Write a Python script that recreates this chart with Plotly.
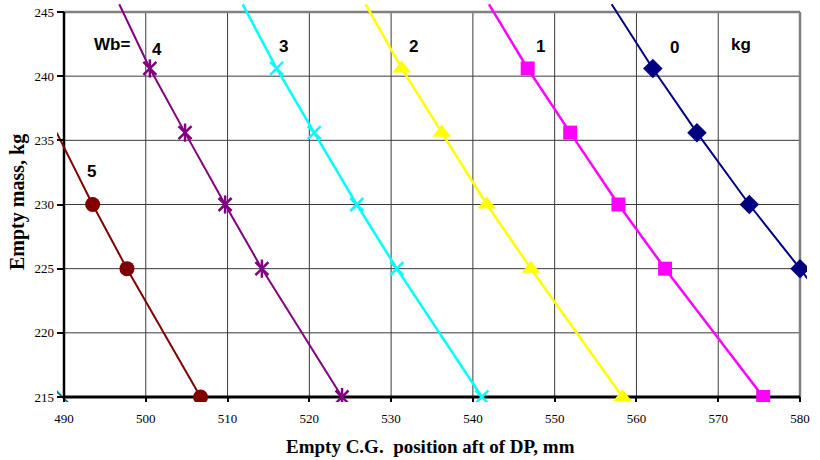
import plotly.graph_objects as go

# ---------------- data ----------------
masses = [245.6, 240.6, 235.6, 230, 225, 215]          # empty mass, kg
cg_wb0 = [556.97, 562.0, 567.4, 573.8, 580.0, 592.0]   # Wb = 0 kg
cg_wb1 = [541.97, 546.7, 551.9, 557.8, 563.5, 575.5]   # Wb = 1 kg
cg_wb2 = [526.89, 531.3, 536.2, 541.7, 547.1, 558.3]   # Wb = 2 kg
cg_wb3 = [511.85, 516.0, 520.6, 525.8, 530.7, 541.1]   # Wb = 3 kg
cg_wb4 = [496.76, 500.5, 504.8, 509.7, 514.2, 524.0]   # Wb = 4 kg
cg_wb5 = [None, None, 489.1, 493.5, 497.7, 506.7]      # Wb = 5 kg
cg_wb6 = [None, None, None, None, None, 489.8]         # Wb = 6 kg (only edge visible)

x_ticks = [490, 500, 510, 520, 530, 540, 550, 560, 570, 580]
y_ticks = [215, 220, 225, 230, 235, 240, 245]

label_texts = ["Wb=", "4", "3", "2", "1", "0", "kg", "5"]
label_x = [495.9, 501.4, 516.8, 532.7, 548.3, 564.6, 572.8, 493.4]
label_y = [242.45, 242.05, 242.3, 242.3, 242.3, 242.2, 242.45, 232.55]

# ---------------- styling ----------------
X0, X1 = x_ticks[0], x_ticks[-1]
Y0, Y1 = y_ticks[0], y_ticks[-1]
PX_PER_X = 736 / (X1 - X0)
PX_PER_Y = 385 / (Y1 - Y0)
x_range = [X0 - 7 / PX_PER_X, X1 + 7 / PX_PER_X]
y_range = [Y0 - 5 / PX_PER_Y, Y1 + 12 / PX_PER_Y]

# (values, colour, marker symbols, marker size, line width, marker line width)
series = [
    (cg_wb0, "#000080", ["diamond"], 15, 2.0, 0),
    (cg_wb1, "#FF00FF", ["square"], 14, 2.5, 0),
    (cg_wb2, "#FFFF00", ["triangle-up"], 16, 2.5, 0),
    (cg_wb3, "#00FFFF", ["x-thin-open"], 13, 2.5, 2.5),
    (cg_wb4, "#800080", ["x-thin-open", "line-ns-open"], 13, 2.0, 2.5),
    (cg_wb5, "#800000", ["circle"], 15, 2.0, 0),
    (cg_wb6, "#008080", ["line-nw-open"], 12, 2.0, 2.0),
]


def visible(x, y):
    return (x is not None and X0 - 0.5 <= x <= X1 + 0.5 and Y0 - 0.5 <= y <= Y1 + 0.5)


fig = go.Figure()
for xs, color, syms, size, lw, mlw in series:
    sizes = [size if visible(x, y) else 0 for x, y in zip(xs, masses)]
    fig.add_trace(go.Scatter(
        x=xs, y=masses, mode="lines",
        line=dict(color=color, width=lw),
        showlegend=False, hoverinfo="skip",
    ))
    for sym in syms:
        fig.add_trace(go.Scatter(
            x=xs, y=masses, mode="markers",
            marker=dict(symbol=sym, size=sizes, color=color, opacity=1,
                        line=dict(color=color, width=mlw)),
            cliponaxis=True, showlegend=False, hoverinfo="skip",
        ))

shapes = []
for xv in x_ticks[1:-1]:
    shapes.append(dict(type="line", xref="x", yref="y", x0=xv, x1=xv, y0=Y0, y1=Y1,
                       line=dict(color="#3a3a3a", width=1), layer="below"))
for yv in y_ticks[1:-1]:
    shapes.append(dict(type="line", xref="x", yref="y", x0=X0, x1=X1, y0=yv, y1=yv,
                       line=dict(color="#3a3a3a", width=1), layer="below"))
# border: top/right grey, left/bottom black axes
shapes.append(dict(type="line", xref="x", yref="y", x0=X0, x1=X1, y0=Y1, y1=Y1,
                   line=dict(color="#808080", width=2.5), layer="below"))
shapes.append(dict(type="line", xref="x", yref="y", x0=X1, x1=X1, y0=Y0, y1=Y1,
                   line=dict(color="#808080", width=2.5), layer="below"))
shapes.append(dict(type="line", xref="x", yref="y", x0=X0, x1=X0, y0=Y0, y1=Y1,
                   line=dict(color="black", width=2.5), layer="below"))
shapes.append(dict(type="line", xref="x", yref="y", x0=X0, x1=X1, y0=Y0, y1=Y0,
                   line=dict(color="black", width=3), layer="below"))

annotations = []
for t, xv, yv in zip(label_texts, label_x, label_y):
    annotations.append(dict(text=t, x=xv, y=yv, xref="x", yref="y", showarrow=False,
                            xanchor="center", yanchor="middle",
                            font=dict(family="Liberation Sans Narrow, Arial Narrow, Liberation Sans, Arial",
                                      size=17, color="black", weight="bold")))
annotations.append(dict(text="Empty C.G.  position aft of DP, mm", xref="paper", yref="paper",
                        x=(430 - 57) / 750, y=(402 - 446) / 402, showarrow=False,
                        xanchor="center", yanchor="middle",
                        font=dict(family="Liberation Serif, Times New Roman, serif", size=19,
                                  color="black", weight="bold")))
annotations.append(dict(text="Empty mass, kg", xref="paper", yref="paper",
                        x=(17 - 57) / 750, y=(402 - 202) / 402, showarrow=False, textangle=-90,
                        xanchor="center", yanchor="middle",
                        font=dict(family="Liberation Serif, Times New Roman, serif", size=20,
                                  color="black", weight="bold")))

tick_font = dict(family="Liberation Serif, Times New Roman, serif", size=13, color="black")

fig.update_layout(
    width=820, height=460,
    margin=dict(l=57, r=13, t=0, b=58),
    paper_bgcolor="white", plot_bgcolor="white",
    shapes=shapes, annotations=annotations,
    xaxis=dict(range=x_range, tickmode="array", tickvals=x_ticks, ticktext=[str(v) for v in x_ticks],
               showgrid=False, zeroline=False, showline=False,
               ticks="inside", ticklen=5, tickwidth=1.5, tickcolor="black",
               tickfont=tick_font, ticklabelstandoff=7),
    yaxis=dict(range=y_range, tickmode="array", tickvals=y_ticks, ticktext=[str(v) for v in y_ticks],
               showgrid=False, zeroline=False, showline=False,
               ticks="inside", ticklen=7, tickwidth=1.5, tickcolor="black",
               tickfont=tick_font, ticklabelstandoff=2),
)

fig.write_html("out.html", config={"displayModeBar": False},
               post_script="document.body.style.margin='0';document.body.style.overflow='hidden';")
